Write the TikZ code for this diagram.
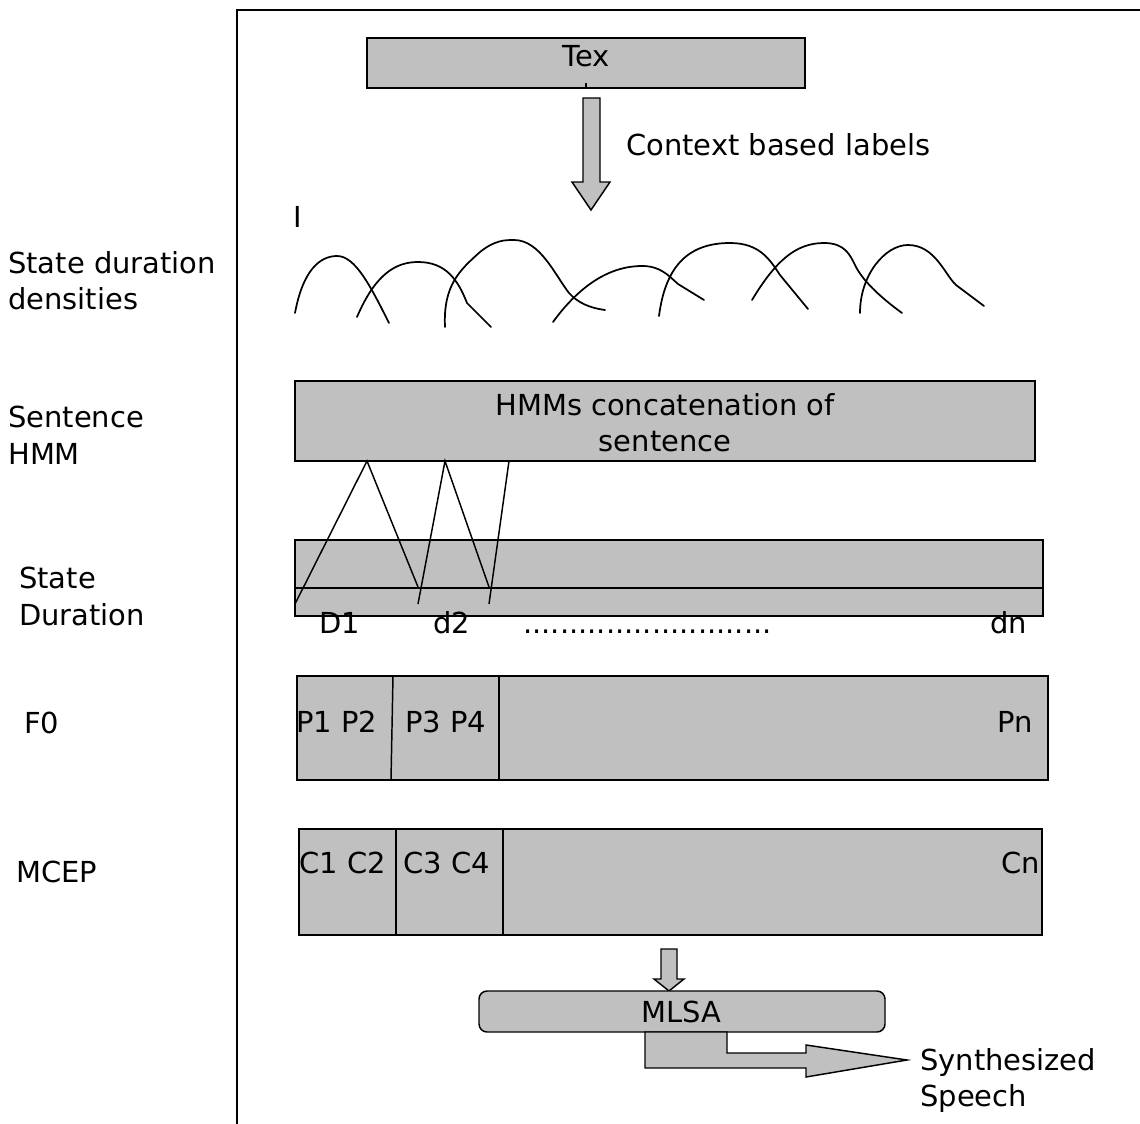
\documentclass[tikz,border=0pt]{standalone}
\usepackage{fontspec}
\setmainfont{DejaVu Sans}
\usetikzlibrary{fit}
\definecolor{boxgray}{RGB}{192,192,192}

\begin{document}
\begin{tikzpicture}[x=0.75pt,y=-0.75pt,
  box/.style={draw=black, fill=boxgray, line width=1.1pt, inner sep=0pt},
  blockarrow/.style={draw=black, fill=boxgray, line width=1.1pt, line join=miter},
  lbl/.style={inner sep=0pt, font=\fontsize{21.7}{27}\selectfont, anchor=base west},
  clbl/.style={lbl, anchor=base},
  rlbl/.style={lbl, anchor=base east},
  density/.style={line width=1.3pt, line join=round, line cap=round},
  thinline/.style={line width=1.1pt}]
\useasboundingbox (0,0) rectangle (1140,1124);

% outer frame
\draw[line width=1.3pt] (237,1124) -- (237,10) -- (1140,10);

% row labels on the left
\node[lbl] (sdd1) at (8,273) {State duration};
\node[lbl] (sdd2) at (8,309) {densities};
\node[lbl] (shmm1) at (8,427) {Sentence};
\node[lbl] (shmm2) at (8,464) {HMM};
\node[lbl] (sdur1) at (19,588) {State};
\node[lbl] (sdur2) at (19,625) {Duration};
\node[lbl] (f0lbl) at (24,733) {F0};
\node[lbl] (mceplbl) at (16,882) {MCEP};

% text input
\node[box, fit={(367,38)(805,88)}] (tex) {};
\node[clbl] (textxt) at (586,67) {Tex};
\draw[line width=0.8pt] (586,83) -- (586,88);
\draw[blockarrow] (583,98) -- (600,98) -- (600,182) -- (610,182) -- (591,210)
  -- (572,182) -- (583,182) -- cycle;
\node[lbl] (ctx) at (626,156) {Context based labels};
\node[lbl] (cursor) at (293,227) {I};

% state duration densities
\draw[density] (295,313) .. controls (303,270) and (320,256) .. (337,256)
  .. controls (355,256) and (370,285) .. (389,323);
\draw[density] (357,317) .. controls (375,275) and (395,262) .. (418,262)
  .. controls (446,262) and (458,280) .. (467,303) -- (491,327);
\draw[density] (445,327) .. controls (443,285) and (460,270) .. (480,252)
  .. controls (495,240) and (505,240) .. (514,240)
  .. controls (540,240) and (555,275) .. (569,293)
  .. controls (578,303) and (590,308) .. (605,310);
\draw[density] (553,322) .. controls (580,285) and (610,266) .. (642,266)
  .. controls (660,266) and (668,275) .. (678,284) -- (704,300);
\draw[density] (659,316) .. controls (665,270) and (685,243) .. (730,243)
  .. controls (760,243) and (770,260) .. (780,275) -- (808,309);
\draw[density] (752,300) .. controls (775,262) and (795,243) .. (824,243)
  .. controls (845,243) and (850,255) .. (855,265)
  .. controls (862,280) and (880,297) .. (902,313);
\draw[density] (860,313) .. controls (860,275) and (885,245) .. (908,245)
  .. controls (935,245) and (945,275) .. (956,285) -- (984,306);

% sentence HMM
\node[box, fit={(295,381)(1035,461)}] (hmm) {};
\node[clbl] (hmmtxt1) at (665,415) {HMMs concatenation of};
\node[clbl] (hmmtxt2) at (665,451) {sentence};

% state durations
\node[box, fit={(295,540)(1043,616)}] (dur) {};
\draw[thinline] (dur.west |- 0,588) -- (dur.east |- 0,588);
\coordinate (s1) at (367,461);
\coordinate (s2) at (445,461);
\coordinate (s3) at (509,461);
\draw[thinline] (295,604) -- (s1) -- (418,587);
\draw[thinline] (418,604) -- (s2) -- (489,587);
\draw[thinline] (489,604) -- (s3);
\node[lbl] (d1) at (319,633) {D1};
\node[lbl] (d2) at (433,633) {d2};
\node[lbl] (dots) at (523,633) {...........................};
\node[rlbl] (dn) at (1027,633) {dn};

% F0
\node[box, fit={(297,676)(1048,780)}] (f0) {};
\draw[thinline] (393,676) -- (391,780);
\draw[thinline] (499,676) -- (499,780);
\node[lbl] (p12) at (296,732) {P1 P2};
\node[lbl] (p34) at (405,732) {P3 P4};
\node[rlbl] (pn) at (1033,732) {Pn};

% MCEP
\node[box, fit={(299,829)(1042,935)}] (mcep) {};
\draw[thinline] (396,829) -- (396,935);
\draw[thinline] (503,829) -- (503,935);
\node[lbl] (c12) at (299,873) {C1 C2};
\node[lbl] (c34) at (403,873) {C3 C4};
\node[rlbl] (cn) at (1040,873) {Cn};

% MLSA filter and output
\draw[blockarrow] (661,949) -- (677,949) -- (677,979) -- (684,979) -- (669,991)
  -- (654,979) -- (661,979) -- cycle;
\node[box, rounded corners=6pt, fit={(479,991)(885,1032)}] (mlsa) {};
\node[clbl] (mlsatxt) at (681,1022) {MLSA};
\draw[blockarrow] (645,1032) -- (645,1068) -- (806,1068) -- (806,1077) -- (907,1060)
  -- (806,1045) -- (806,1053) -- (727,1053) -- (727,1032) -- cycle;
\node[lbl] (synth1) at (920,1070) {Synthesized};
\node[lbl] (synth2) at (920,1106) {Speech};
\end{tikzpicture}
\end{document}
